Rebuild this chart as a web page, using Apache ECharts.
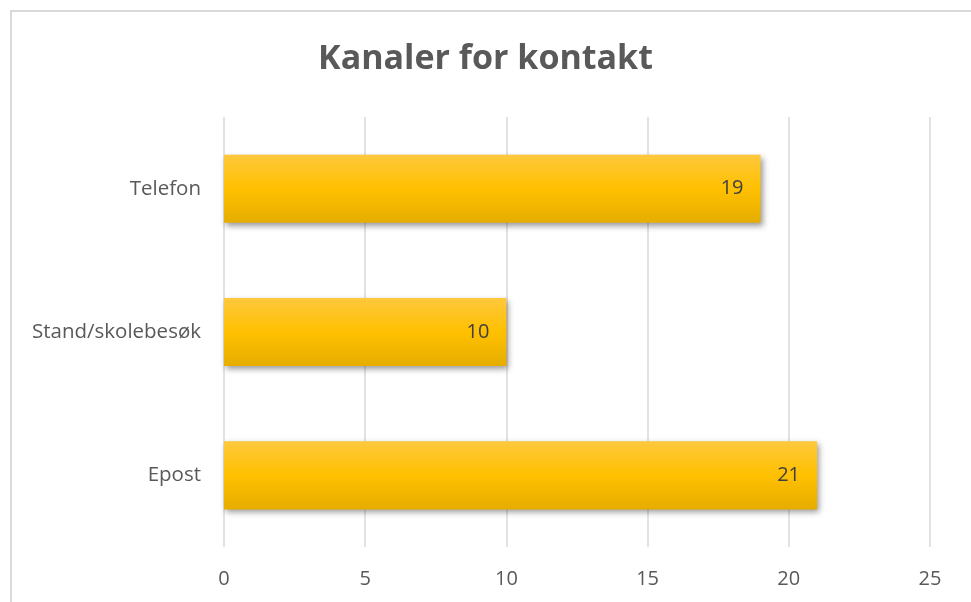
<!DOCTYPE html>
<html>
<head>
<meta charset="utf-8">
<script src="https://cdn.jsdelivr.net/npm/echarts@6/dist/echarts.min.js"></script>
<style>
html,body{margin:0;padding:0;background:#fff;}
#chart{width:971px;height:602px;}
</style>
</head>
<body>
<div id="chart"></div>
<script>
var categories = ['Telefon', 'Stand/skolebesøk', 'Epost'];
var values = [19, 10, 21];
var ticks = [0, 5, 10, 15, 20, 25];

var font = '"Open Sans", sans-serif';

echarts.init(document.getElementById('chart')).setOption({
    animation: false,
    title: {
        text: 'Kanaler for kontakt',
        left: 'center',
        top: 37,
        textStyle: {
            fontFamily: font,
            fontSize: 34,
            fontWeight: 'bold',
            color: '#595959'
        }
    },
    graphic: [{
        type: 'rect',
        silent: true,
        shape: {x: 11, y: 11, width: 980, height: 620},
        style: {fill: 'none', stroke: '#d9d9d9', lineWidth: 2}
    }],
    grid: {
        left: 224,
        right: 41,
        top: 117,
        bottom: 55
    },
    xAxis: {
        type: 'value',
        min: ticks[0],
        max: ticks[ticks.length - 1],
        interval: 5,
        axisLine: {show: false},
        axisTick: {show: false},
        splitLine: {lineStyle: {color: '#d9d9d9', width: 1.5}},
        axisLabel: {
            margin: 22,
            fontFamily: font,
            fontSize: 20,
            color: '#595959'
        }
    },
    yAxis: {
        type: 'category',
        inverse: true,
        data: categories,
        axisLine: {show: false},
        axisTick: {show: false},
        axisLabel: {
            margin: 23,
            fontFamily: font,
            fontSize: 20.5,
            color: '#595959'
        }
    },
    series: [{
        type: 'bar',
        data: values,
        barWidth: '47.5%',
        itemStyle: {
            color: new echarts.graphic.LinearGradient(0, 0, 0, 1, [
                {offset: 0, color: '#ffc83d'},
                {offset: 0.5, color: '#ffc000'},
                {offset: 1, color: '#e6ad00'}
            ]),
            shadowColor: 'rgba(0,0,0,0.4)',
            shadowBlur: 6,
            shadowOffsetX: 2,
            shadowOffsetY: 3
        },
        label: {
            show: true,
            position: 'insideRight',
            distance: 17,
            fontFamily: font,
            fontSize: 20,
            color: '#404040'
        }
    }]
});
</script>
</body>
</html>
